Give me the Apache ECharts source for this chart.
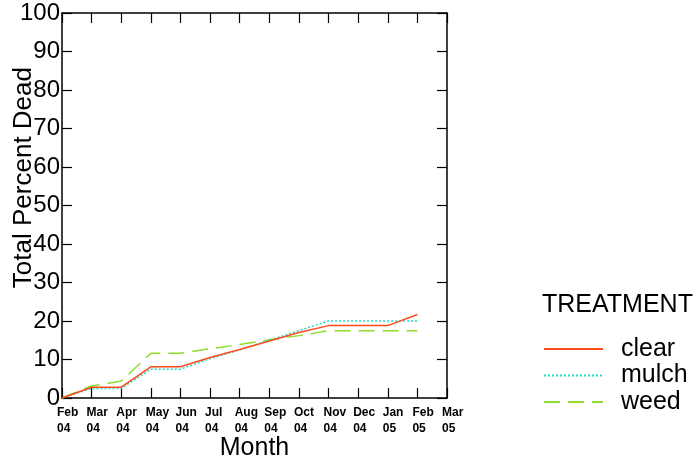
<!DOCTYPE html>
<html><head><meta charset="utf-8">
<script src="https://cdn.jsdelivr.net/npm/echarts@6/dist/echarts.min.js"></script>
<style>html,body{margin:0;padding:0;background:#fff}#c{width:699px;height:460px}</style>
</head><body><div id="c"></div>
<script>
const months = ['Feb\n04','Mar\n04','Apr\n04','May\n04','Jun\n04','Jul\n04','Aug\n04','Sep\n04','Oct\n04','Nov\n04','Dec\n04','Jan\n05','Feb\n05','Mar\n05'];
const clear = [0, 2.8, 2.8, 8.1, 8.1, 10.5, 12.6, 14.8, 17.0, 18.8, 18.8, 18.8, 21.7, null];
const mulch = [0, 2.5, 2.5, 7.5, 7.5, 10.2, 12.5, 15.0, 17.5, 20.0, 20.0, 20.0, 20.0, null];
const weed  = [0, 3.1, 4.4, 11.6, 11.6, 12.8, 13.9, 15.1, 16.2, 17.5, 17.5, 17.5, 17.5, null];
const yTicks = [0,10,20,30,40,50,60,70,80,90,100];

const chart = echarts.init(document.getElementById('c'), null, {renderer:'canvas'});
const F = 'Liberation Sans, Arial, sans-serif';
const axisLine = {show:true, onZero:false, lineStyle:{color:'#000', width:1.5}};
const tick = {show:true, inside:true, length:10, lineStyle:{color:'#000', width:1.2}};
chart.setOption({
  animation:false,
  backgroundColor:'#fff',
  grid:{left:62, right:252, top:13, bottom:62, containLabel:false, outerBoundsMode:'none'},
  title:{text:'TREATMENT', left:542, top:293, padding:0, textStyle:{fontFamily:F, fontSize:25, fontWeight:'normal', color:'#000'}},
  legend:{
    orient:'vertical', left:543, top:336, padding:0, itemWidth:59, itemHeight:14, itemGap:0.5,
    data:['clear','mulch','weed'],
    itemStyle:{opacity:0},
    textStyle:{fontFamily:F, fontSize:25, lineHeight:20, color:'#000', padding:[6,0,0,13]}
  },
  graphic:[{
    type:'text', left:11, top:67, rotation:Math.PI/2,
    style:{text:'Total Percent Dead', font:'26px Liberation Sans, Arial, sans-serif', fill:'#000'}
  }],
  xAxis:[{
    type:'category', data:months, boundaryGap:false, position:'bottom',
    axisLine:axisLine, axisTick:tick,
    axisLabel:{fontFamily:F, fontSize:12, fontWeight:'bold', color:'#000', lineHeight:16, margin:7, interval:0,
               align:'left', padding:[0,0,0,-5]},
    name:'Month', nameLocation:'middle', nameGap:38, nameMoveOverlap:false,
    nameTextStyle:{fontFamily:F, fontSize:25, color:'#000'},
    splitLine:{show:false}
  },{
    type:'category', data:months, boundaryGap:false, position:'top',
    axisLine:axisLine, axisTick:tick,
    axisLabel:{show:false}, splitLine:{show:false}
  }],
  yAxis:[{
    type:'value', min:0, max:100, interval:10, position:'left',
    axisLine:axisLine, axisTick:tick,
    axisLabel:{fontFamily:F, fontSize:24, color:'#000', margin:2},
    splitLine:{show:false}
  },{
    type:'value', min:0, max:100, interval:10, position:'right',
    axisLine:axisLine, axisTick:tick,
    axisLabel:{show:false}, splitLine:{show:false}
  }],
  series:[
    {name:'clear', type:'line', data:clear, showSymbol:false, symbol:'none', itemStyle:{color:'#FF4A1C'},
     lineStyle:{color:'#FF4A1C', width:1.5, type:'solid'}, z:3},
    {name:'mulch', type:'line', data:mulch, showSymbol:false, symbol:'none', itemStyle:{color:'#1ED8C8'},
     lineStyle:{color:'#1ED8C8', width:1.5, type:[2,2]}, z:2},
    {name:'weed', type:'line', data:weed, showSymbol:false, symbol:'none', itemStyle:{color:'#8EDC2C'},
     lineStyle:{color:'#8EDC2C', width:1.5, type:[16,8]}, z:1}
  ]
});
</script></body></html>
